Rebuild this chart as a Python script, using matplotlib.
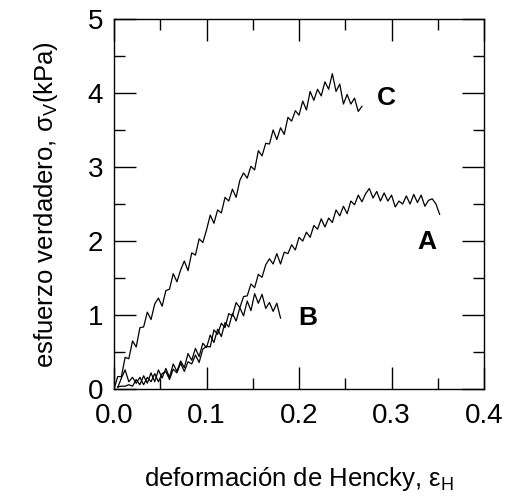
import matplotlib
matplotlib.use("Agg")
import matplotlib.pyplot as plt
from matplotlib.ticker import MultipleLocator

plt.rcParams["font.family"] = ["Liberation Sans", "DejaVu Sans"]
plt.rcParams["mathtext.fontset"] = "custom"
plt.rcParams["mathtext.rm"] = "Liberation Sans"
plt.rcParams["mathtext.it"] = "Liberation Sans"

# curva C
strain_c = [0.000, 0.004, 0.008, 0.012, 0.016, 0.020, 0.024, 0.028, 0.032, 0.036,
            0.040, 0.044, 0.048, 0.052, 0.056, 0.060, 0.064, 0.068, 0.072, 0.076,
            0.080, 0.084, 0.088, 0.092, 0.096, 0.100, 0.104, 0.108, 0.112, 0.116,
            0.120, 0.124, 0.128, 0.132, 0.136, 0.140, 0.144, 0.148, 0.152, 0.156,
            0.160, 0.164, 0.168, 0.172, 0.176, 0.180, 0.184, 0.188, 0.192, 0.196,
            0.200, 0.204, 0.208, 0.212, 0.216, 0.220, 0.224, 0.228, 0.232, 0.236,
            0.240, 0.244, 0.248, 0.252, 0.256, 0.260, 0.264, 0.268]
stress_c = [0.00, 0.17, 0.17, 0.43, 0.41, 0.65, 0.57, 0.83, 0.84, 1.04,
            0.94, 1.15, 1.23, 1.12, 1.33, 1.35, 1.56, 1.45, 1.61, 1.73,
            1.60, 1.84, 1.81, 2.03, 1.98, 2.15, 2.35, 2.24, 2.42, 2.38,
            2.59, 2.54, 2.70, 2.59, 2.82, 2.92, 2.85, 3.01, 2.96, 3.22,
            3.15, 3.32, 3.31, 3.50, 3.37, 3.53, 3.44, 3.67, 3.62, 3.76,
            3.70, 3.89, 3.77, 4.02, 3.90, 4.05, 3.96, 4.15, 4.05, 4.26,
            4.02, 4.12, 3.85, 3.98, 3.85, 3.93, 3.75, 3.82]

# curva A
strain_a = [0.004, 0.008, 0.012, 0.016, 0.020, 0.024, 0.028, 0.032, 0.036, 0.040,
            0.044, 0.048, 0.052, 0.056, 0.060, 0.064, 0.068, 0.072, 0.076, 0.080,
            0.084, 0.088, 0.092, 0.096, 0.100, 0.104, 0.108, 0.112, 0.116, 0.120,
            0.124, 0.128, 0.132, 0.136, 0.140, 0.144, 0.148, 0.152, 0.156, 0.160,
            0.164, 0.168, 0.172, 0.176, 0.180, 0.184, 0.188, 0.192, 0.196, 0.200,
            0.204, 0.208, 0.212, 0.216, 0.220, 0.224, 0.228, 0.232, 0.236, 0.240,
            0.244, 0.248, 0.252, 0.256, 0.260, 0.264, 0.268, 0.272, 0.276, 0.280,
            0.284, 0.288, 0.292, 0.296, 0.300, 0.304, 0.308, 0.312, 0.316, 0.320,
            0.324, 0.328, 0.332, 0.336, 0.340, 0.344, 0.348, 0.352]
stress_a = [0.02, 0.15, 0.26, 0.10, 0.16, 0.08, 0.16, 0.06, 0.16, 0.10,
            0.21, 0.10, 0.21, 0.24, 0.13, 0.27, 0.22, 0.35, 0.24, 0.37,
            0.34, 0.46, 0.36, 0.54, 0.58, 0.57, 0.80, 0.74, 0.89, 0.83,
            1.02, 0.99, 1.17, 1.10, 1.25, 1.26, 1.42, 1.37, 1.55, 1.51,
            1.68, 1.76, 1.69, 1.83, 1.69, 1.85, 1.83, 1.95, 1.88, 2.05,
            2.00, 2.12, 2.05, 2.21, 2.16, 2.30, 2.19, 2.31, 2.25, 2.42,
            2.34, 2.47, 2.37, 2.54, 2.49, 2.62, 2.53, 2.64, 2.71, 2.58,
            2.67, 2.54, 2.65, 2.54, 2.62, 2.46, 2.54, 2.50, 2.61, 2.50,
            2.63, 2.52, 2.62, 2.47, 2.55, 2.57, 2.50, 2.36]

# curva B
strain_b = [0.004, 0.008, 0.012, 0.016, 0.020, 0.024, 0.028, 0.032, 0.036, 0.040,
            0.044, 0.048, 0.052, 0.056, 0.060, 0.064, 0.068, 0.072, 0.076, 0.080,
            0.084, 0.088, 0.092, 0.096, 0.100, 0.104, 0.108, 0.112, 0.116, 0.120,
            0.124, 0.128, 0.132, 0.136, 0.140, 0.144, 0.148, 0.152, 0.156, 0.160,
            0.164, 0.168, 0.172, 0.176, 0.180]
stress_b = [0.03, 0.04, 0.04, 0.06, 0.04, 0.13, 0.06, 0.18, 0.08, 0.22,
            0.10, 0.26, 0.15, 0.28, 0.16, 0.34, 0.24, 0.38, 0.29, 0.48,
            0.39, 0.55, 0.44, 0.62, 0.56, 0.73, 0.63, 0.81, 0.71, 0.90,
            0.84, 1.02, 0.92, 1.10, 0.99, 1.19, 1.06, 1.29, 1.16, 1.28,
            1.09, 1.17, 1.05, 1.16, 0.96]

curve_labels = ["C", "A", "B"]
label_x = [0.294, 0.338, 0.209]
label_y = [3.93, 1.99, 0.96]

fig = plt.figure(figsize=(5.09, 4.97), dpi=100)
ax = fig.add_axes([0.224, 0.217, 0.727, 0.745])

for xs, ys in [(strain_c, stress_c), (strain_a, stress_a), (strain_b, stress_b)]:
    ax.plot(xs, ys, color="black", linewidth=0.9)

for name, lx, ly in zip(curve_labels, label_x, label_y):
    ax.text(lx, ly, name, fontsize=19, fontweight="bold", ha="center", va="center")

ax.set_xlim(0, 0.4)
ax.set_ylim(0, 5)
ax.xaxis.set_major_locator(MultipleLocator(0.1))
ax.xaxis.set_minor_locator(MultipleLocator(0.05))
ax.yaxis.set_major_locator(MultipleLocator(1))
ax.yaxis.set_minor_locator(MultipleLocator(0.5))
ax.xaxis.set_major_formatter(lambda v, p: f"{v:.1f}")
ax.tick_params(which="both", direction="in", top=True, right=True, width=1.0, labelsize=20)
ax.tick_params(which="major", length=16)
ax.tick_params(axis="x", which="major", pad=10)
ax.tick_params(axis="y", which="major", pad=8)
ax.tick_params(which="minor", length=8)
for s in ax.spines.values():
    s.set_linewidth(1.0)

ax.set_xlabel(r"deformación de Hencky, ε$_\mathrm{H}$", fontsize=18.5, labelpad=26)
ax.set_ylabel(r"esfuerzo verdadero, σ$_\mathrm{V}$(kPa)", fontsize=18.5, labelpad=20)

fig.savefig("out.png", dpi=100)
